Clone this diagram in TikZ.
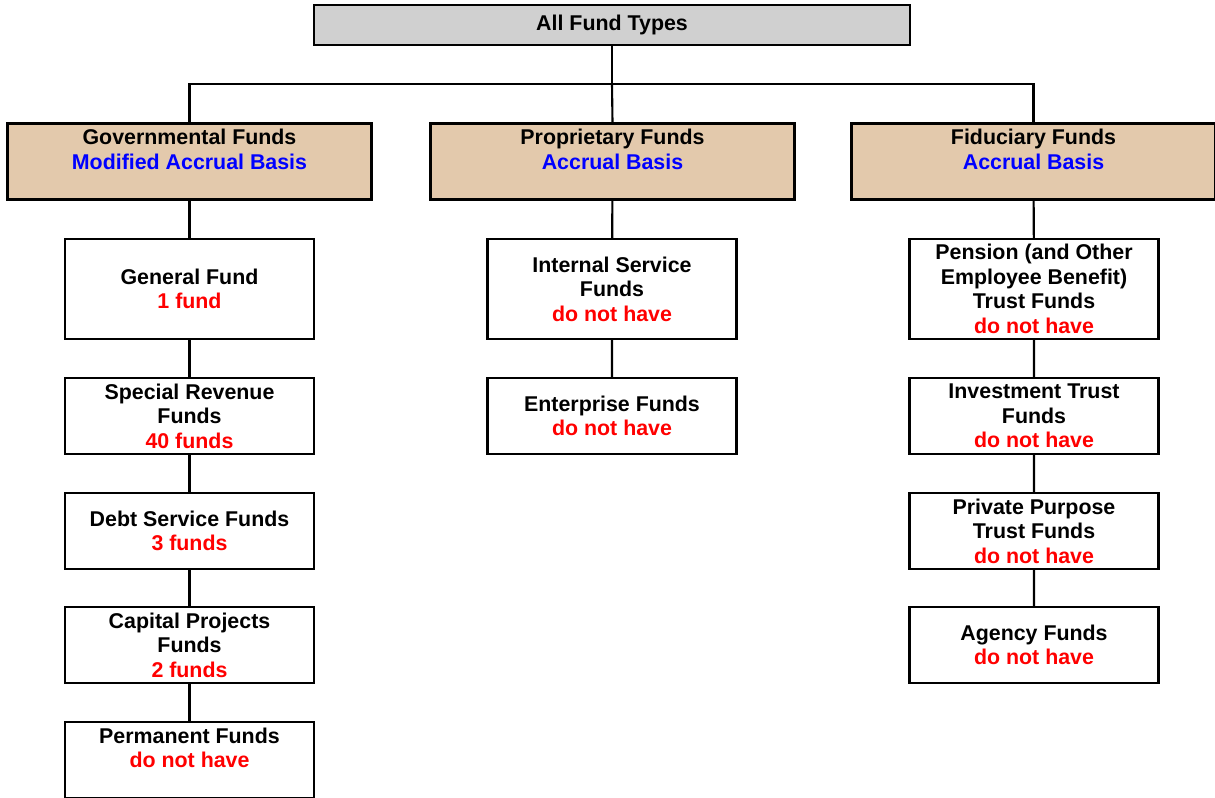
\documentclass[tikz,border=0pt]{standalone}
\usepackage{fontspec}
\setmainfont{Liberation Sans}
\usetikzlibrary{positioning}
\definecolor{cattan}{RGB}{227,201,172}
\definecolor{topgray}{RGB}{208,208,208}
\definecolor{basisblue}{RGB}{0,0,255}
\definecolor{countred}{RGB}{255,0,0}

\tikzset{
  anybox/.style={draw=black, line width=1.5pt, inner sep=0pt, align=center,
    font=\fontsize{15.2}{17.4}\selectfont\bfseries},
  topbox/.style={anybox, fill=topgray, minimum width=596*0.025cm, minimum height=40*0.025cm},
  catbox/.style={anybox, fill=cattan, minimum width=364*0.025cm, minimum height=76*0.025cm},
  fundbox/.style={anybox, fill=white, minimum width=249*0.025cm, minimum height=100*0.025cm},
  smallbox/.style={fundbox, minimum height=76*0.025cm},
  link/.style={line width=1.5pt}
}
\newcommand{\basis}[1]{\textcolor{basisblue}{#1}}
\newcommand{\howmany}[1]{\textcolor{countred}{#1}}

\begin{document}
\begin{tikzpicture}[x=0.025cm, y=-0.025cm]
        \useasboundingbox (0,0) rectangle (1215,797);

        % Top
        \node[topbox] (all) at (612,25) {All Fund Types};
        \coordinate (bus) at (612,84);

        % Categories
        \node[catbox] (gov) at (189.5,161.5) {Governmental Funds\\\basis{Modified Accrual Basis}\\ };
        \node[catbox] (prop) at (612.5,161.5) {Proprietary Funds\\\basis{Accrual Basis}\\ };
        \node[catbox] (fid) at (1033.5,161.5) {Fiduciary Funds\\\basis{Accrual Basis}\\ };

        % Governmental
        \node[fundbox] (general) at (189.5,289) {General Fund\\\howmany{1 fund}};
        \node[smallbox] (special) at (189.5,416) {Special Revenue\\Funds\\\howmany{40 funds}};
        \node[smallbox] (debt) at (189.5,531) {Debt Service Funds\\\howmany{3 funds}};
        \node[smallbox] (capital) at (189.5,645) {Capital Projects\\Funds\\\howmany{2 funds}};
        \node[smallbox] (permanent) at (189.5,760) {Permanent Funds\\\howmany{do not have}\\ };

        % Proprietary
        \node[fundbox] (internal) at (612,289) {Internal Service\\Funds\\\howmany{do not have}};
        \node[smallbox] (enterprise) at (612,416) {Enterprise Funds\\\howmany{do not have}};

        % Fiduciary
        \node[fundbox] (pension) at (1034,289) {Pension (and Other\\Employee Benefit)\\Trust Funds\\\howmany{do not have}};
        \node[smallbox] (investment) at (1034,416) {Investment Trust\\Funds\\\howmany{do not have}};
        \node[smallbox] (private) at (1034,531) {Private Purpose\\Trust Funds\\\howmany{do not have}};
        \node[smallbox] (agency) at (1034,645) {Agency Funds\\\howmany{do not have}};

        % Connectors
        \draw[link] (all.south) -- (bus);
        \draw[link] (bus) -| (gov.north);
        \draw[link] (bus) -- (prop.north);
        \draw[link] (bus) -| (fid.north);
        \draw[link] (gov) -- (general) -- (special) -- (debt) -- (capital) -- (permanent);
        \draw[link] (prop) -- (internal) -- (enterprise);
        \draw[link] (fid) -- (pension) -- (investment) -- (private) -- (agency);
    \end{tikzpicture}
\end{document}
